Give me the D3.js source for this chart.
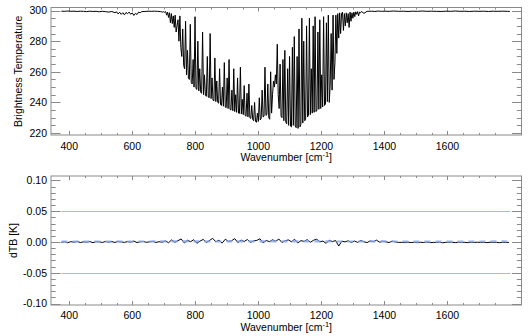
<!DOCTYPE html>
<html><head><meta charset="utf-8">
<script src="https://cdn.jsdelivr.net/npm/d3@7"></script>
<style>body{margin:0;background:#fff} svg{display:block} text{font-family:"Liberation Sans",Arial,sans-serif;font-size:10.5px;fill:#000}</style>
</head><body><svg id="c" width="530" height="336"></svg>
<script>
// ---- Top panel: brightness temperature spectrum ----
const wavenumber = [
375,385,395,405,415,425,435,445,455,465,475,485,495,505,515,525,535,545,550,555,560,565,570,575,580,585,590,595,600,605,610,615,620,625,630,640,650,660,670,680,690,696,
700,703,706,709,712,715,718,721,724,727,
730,733,736,739,742,745,748,751,754,757,
760,763,766,769,772,775,778,781,784,787,
790,793,796,799,802,805,808,811,814,817,
820,823,826,829,832,835,838,841,844,847,
850,853,856,859,862,865,868,871,874,877,
880,883,886,889,892,895,898,901,904,907,
910,913,916,919,922,925,928,931,934,937,
940,943,946,949,952,955,958,961,964,967,
970,973,976,979,982,985,988,991,994,997,
1000,1003,1006,1009,1012,1015,1018,1021,1024,1027,
1030,1033,1036,1039,1042,1045,1048,1051,1054,1057,
1060,1063,1066,1069,1072,1075,1078,1081,1084,1087,
1090,1093,1096,1099,1102,1105,1108,1111,1114,1117,
1120,1123,1126,1129,1132,1135,1138,1141,1144,1147,
1150,1153,1156,1159,1162,1165,1168,1171,1174,1177,
1180,1183,1186,1189,1192,1195,1198,1201,1204,1207,
1210,1213,1216,1219,1222,1225,1228,1231,1234,1237,
1240,1243,1246,1249,1252,1255,1258,1261,1264,1267,
1270,1273,1276,1279,1282,1285,1288,1291,1294,1297,
1300,1303,1306,1309,1312,1315,1318,1321,1324,1327,
1335,1345,1360,1370,1380,1390,1400,1415,1430,1445,1460,1475,1490,1505,1520,1535,1550,1565,1580,1595,1610,1625,1640,1655,1670,1685,1700,1715,1730,1745,1760,1775,1790,1798
];
const brightnessTemp = [
299.6,299.5,299.7,299.5,299.6,299.4,299.6,299.5,299.3,299.6,299.4,299.5,299.2,299.5,299.3,299.0,299.4,298.6,299.2,297.8,298.9,297.5,298.6,297.2,298.8,297.9,299.0,297.6,298.4,296.8,298.2,297.4,299.0,298.6,299.3,299.4,299.6,299.5,299.6,299.5,299.3,299.0,
299.2,298.8,299.3,297.0,298.9,295.5,298.6,292.0,298.0,291.5,
296.5,289.0,297.0,286.0,290.0,294.0,280.0,296.5,276.0,270.0,
288.0,264.0,262.0,293.0,258.0,274.0,256.0,255.0,291.0,253.0,
252.0,268.0,250.0,296.0,249.0,248.5,280.0,247.5,262.0,246.5,
246.0,286.0,245.0,258.0,244.5,244.0,270.0,243.5,243.0,285.0,
242.5,256.0,241.5,241.0,269.0,240.5,254.0,240.0,239.5,262.0,
238.5,238.0,250.0,237.5,266.0,237.0,236.5,256.0,236.0,268.0,
235.5,235.0,248.0,234.5,262.0,234.0,245.0,233.5,256.0,233.0,
232.8,263.0,232.5,242.0,232.0,251.0,231.5,231.0,246.0,230.5,
252.0,230.0,229.5,238.0,229.0,228.0,240.0,227.5,227.0,233.0,
227.5,243.0,228.5,229.5,248.0,230.5,231.0,263.0,231.5,232.0,
252.0,230.0,229.0,260.0,233.0,245.0,254.0,250.0,258.0,252.0,
278.0,245.0,236.0,265.0,231.0,230.0,268.0,228.0,274.0,227.0,
226.0,262.0,225.0,270.0,224.5,224.0,276.0,225.0,283.0,224.5,
223.5,270.0,223.0,288.0,224.0,225.5,295.0,226.5,280.0,228.0,
229.0,290.0,230.5,231.5,295.0,232.0,262.0,233.0,290.0,233.5,
296.0,234.0,235.0,286.0,235.5,294.0,236.0,258.0,237.0,296.0,
238.0,239.0,292.0,240.5,297.0,240.0,252.0,285.0,248.0,297.0,
255.0,266.0,297.0,272.0,298.0,282.0,298.5,285.0,298.0,299.0,
287.0,298.0,290.0,298.5,292.0,298.0,289.0,299.0,293.0,298.5,
295.0,299.0,296.0,299.2,297.5,299.3,296.5,299.0,298.5,299.4,
298.2,299.5,299.6,299.4,299.7,299.5,299.6,299.5,299.7,299.5,299.6,299.4,299.6,299.5,299.7,299.5,299.6,299.5,299.4,299.6,299.5,299.7,299.5,299.6,299.4,299.6,299.5,299.6,299.4,299.6,299.5,299.6,299.5,299.4
];
// ---- Bottom panel: dTB difference ----
const dtbWavenumber = [
375,385,395,405,415,425,435,445,455,465,475,485,495,505,515,525,535,545,555,565,575,585,595,605,615,625,635,645,655,665,675,685,695,
705,715,725,735,745,755,765,775,785,795,805,815,825,835,845,855,865,875,885,895,905,915,925,935,945,955,965,975,985,995,1005,1015,1025,1035,1045,1055,1065,1075,1085,1095,1105,1115,1125,1135,1145,1155,1165,1175,1185,1195,1205,1215,1225,1235,1245,1255,1265,1275,1285,1295,
1305,1315,1325,1335,1345,1355,1365,1375,1385,1395,1405,1415,1425,1435,1445,
1455,1465,1475,1485,1495,1505,1515,1525,1535,1545,1555,1565,1575,1585,1595,1605,1615,1625,1635,1645,1655,1665,1675,1685,1695,1705,1715,1725,1735,1745,1755,1765,1775,1785,1795
];
const dtbValues = [
-0.0008,0.0004,-0.0012,0.0006,-0.0005,0.0010,-0.0009,0.0003,-0.0004,0.0008,-0.0011,0.0005,0.0002,-0.0007,0.0009,-0.0003,0.0006,-0.0008,0.0012,0.0001,-0.0006,0.0007,-0.0002,0.0015,-0.0009,0.0004,0.0008,-0.0005,0.0003,0.0010,-0.0007,0.0005,-0.0004,
0.0018,-0.0012,0.0035,-0.0005,0.0022,0.0050,-0.0015,0.0028,0.0005,0.0038,-0.0020,0.0015,0.0042,-0.0008,0.0025,0.0060,0.0002,0.0030,-0.0018,0.0045,0.0010,0.0020,0.0055,-0.0010,0.0032,0.0008,0.0040,-0.0006,0.0018,0.0026,0.0052,-0.0014,0.0024,0.0006,0.0036,0.0012,0.0048,-0.0009,0.0020,0.0034,0.0004,0.0044,-0.0016,0.0022,0.0010,0.0038,-0.0004,0.0028,0.0046,0.0002,0.0016,-0.0022,0.0030,0.0006,0.0024,-0.0065,0.0014,0.0002,0.0020,-0.0008,
0.0016,-0.0006,0.0024,0.0003,-0.0009,0.0018,0.0005,0.0030,-0.0004,0.0012,0.0002,-0.0008,0.0014,0.0000,-0.0006,
-0.0006,-0.0010,-0.0003,-0.0009,-0.0005,-0.0011,-0.0004,-0.0008,-0.0002,-0.0010,-0.0006,-0.0009,-0.0004,-0.0012,-0.0005,-0.0008,-0.0003,-0.0010,-0.0006,-0.0009,-0.0005,-0.0011,-0.0004,-0.0007,-0.0003,-0.0009,-0.0006,-0.0010,-0.0004,-0.0008,-0.0005,-0.0011,-0.0006,-0.0009,-0.0007
];
const refWavenumber = [375,475,575,675,775,875,975,1075,1175,1275,1375,1475,1575,1675,1775,1795];
const refValues = [0.0006,0.0008,0.0007,0.0009,0.0010,0.0008,0.0011,0.0009,0.0010,0.0008,0.0009,0.0008,0.0007,0.0008,0.0009,0.0008];
const limitValues = [0.05, -0.05];

const xMajorTicks = [400,600,800,1000,1200,1400,1600];
const xMinorTicks = [450,500,550,650,700,750,850,900,950,1050,1100,1150,1250,1300,1350,1450,1500,1550,1650,1700,1750];
const btMajorTicks = [220,240,260,280,300];
const btMinorTicks = [225,230,235,245,250,255,265,270,275,285,290,295];
const dtbMajorTicks = [-0.10,-0.05,0.00,0.05,0.10];
const dtbMinorTicks = [-0.09,-0.08,-0.07,-0.06,-0.04,-0.03,-0.02,-0.01,0.01,0.02,0.03,0.04,0.06,0.07,0.08,0.09];

const svg = d3.select("#c");
const L = 51, R = 521.5;
const x = d3.scaleLinear().domain([342, 1835]).range([L, R]);
const xTitle = "Wavenumber [cm";

function panel(top, bottom, y, yMaj, yMin, yFmt, yTitle, yTitleX, tickBase, titleBase) {
  const g = svg.append("g");
  const frame = "#8a8a8a";
  const tick = (vals, len, orient) => {
    vals.forEach(v => {
      if (orient === "x") {
        const px = Math.round(x(v)) + 0.5;
        g.append("line").attr("x1", px).attr("x2", px).attr("y1", bottom).attr("y2", bottom - len).attr("stroke", frame);
        g.append("line").attr("x1", px).attr("x2", px).attr("y1", top).attr("y2", top + len).attr("stroke", frame);
      } else {
        const py = Math.round(y(v)) + 0.5;
        g.append("line").attr("x1", L).attr("x2", L + len).attr("y1", py).attr("y2", py).attr("stroke", frame);
        g.append("line").attr("x1", R).attr("x2", R - len).attr("y1", py).attr("y2", py).attr("stroke", frame);
      }
    });
  };
  tick(xMajorTicks, 4, "x");
  tick(xMinorTicks, 2, "x");
  tick(yMaj, 9.5, "y");
  tick(yMin, 4.7, "y");
  g.append("rect").attr("x", L).attr("y", top).attr("width", R - L).attr("height", bottom - top)
    .attr("fill", "none").attr("stroke", frame).attr("stroke-width", 1);
  g.selectAll(".xl").data(xMajorTicks).join("text").attr("x", d => x(d)).attr("y", tickBase)
    .attr("text-anchor", "middle").text(d => d);
  g.selectAll(".yl").data(yMaj).join("text").attr("x", 47).attr("y", d => y(d)).attr("dy", "0.36em")
    .attr("text-anchor", "end").text(yFmt);
  const t = g.append("text").attr("x", (L + R) / 2).attr("y", titleBase).attr("text-anchor", "middle");
  t.append("tspan").text(xTitle);
  t.append("tspan").attr("dy", -4).attr("font-size", "7.5px").text("-1");
  t.append("tspan").attr("dy", 4).text("]");
  g.append("text").attr("transform", `translate(${yTitleX},${(top + bottom) / 2}) rotate(-90)`)
    .attr("text-anchor", "middle").attr("dy", "0.36em").text(yTitle);
  return g;
}

// Top panel
const yBT = d3.scaleLinear().domain([218.7, 302]).range([135, 7.5]);
panel(7.5, 135, yBT, btMajorTicks, btMinorTicks, d => d, "Brightness Temperature", 18.5, 149.5, 161);
const btData = wavenumber.map((w, i) => [w, brightnessTemp[i]]);
svg.append("path").datum(btData)
  .attr("d", d3.line().x(d => x(d[0])).y(d => yBT(d[1])))
  .attr("fill", "none").attr("stroke", "#000").attr("stroke-width", 1);

// Bottom panel
const yD = d3.scaleLinear().domain([-0.1024, 0.1073]).range([305, 176]);
panel(176, 305, yD, dtbMajorTicks, dtbMinorTicks, d => d3.format(".2f")(d).replace("−", "-"), "dTB [K]", 13.5, 318.5, 330.5);
limitValues.forEach(v => {
  svg.append("line").attr("x1", x(375)).attr("x2", x(1800))
    .attr("y1", Math.round(yD(v)) + 0.5).attr("y2", Math.round(yD(v)) + 0.5)
    .attr("stroke", "#f4a390").attr("stroke-width", 1);
});
const dData = dtbWavenumber.map((w, i) => [w, dtbValues[i]]);
svg.append("path").datum(dData)
  .attr("d", d3.line().x(d => x(d[0])).y(d => yD(d[1])))
  .attr("fill", "none").attr("stroke", "#000").attr("stroke-width", 1);
const rData = refWavenumber.map((w, i) => [w, refValues[i]]);
svg.append("path").datum(rData)
  .attr("d", d3.line().x(d => x(d[0])).y(d => yD(d[1])))
  .attr("fill", "none").attr("stroke", "#89a6ee").attr("stroke-width", 2.2).attr("stroke-dasharray", "6,5").attr("opacity", 0.85);
</script></body></html>
